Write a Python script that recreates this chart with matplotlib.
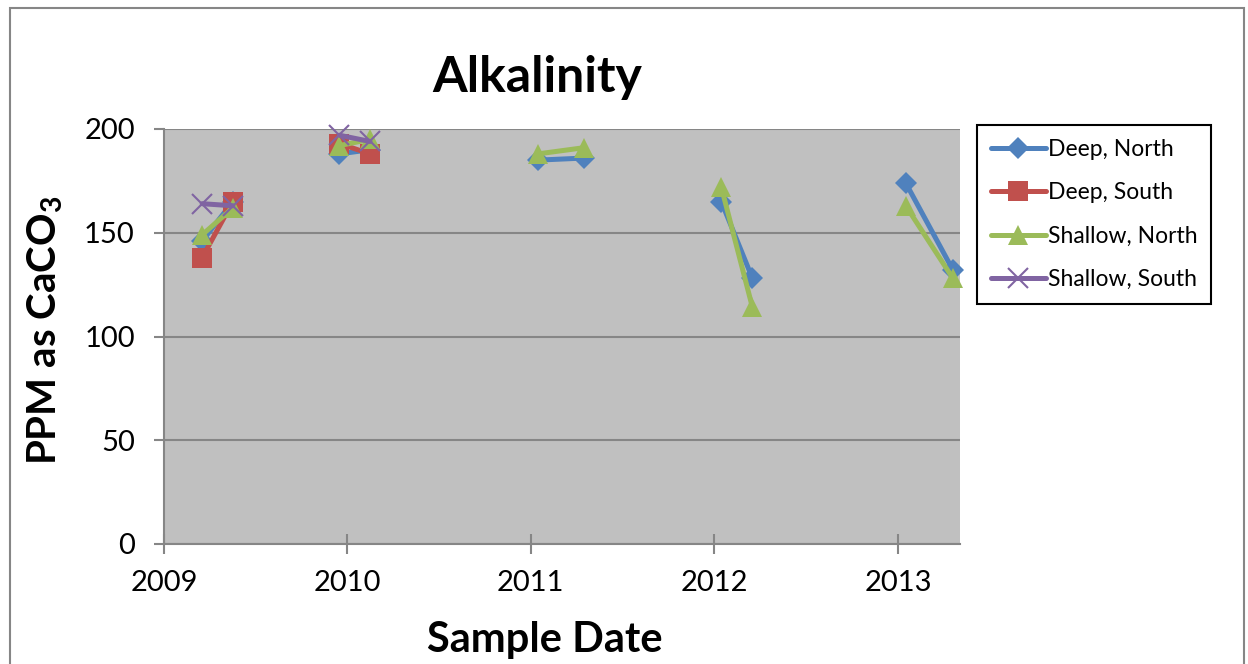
import numpy as np
import pandas as pd
import matplotlib
matplotlib.use("Agg")
import matplotlib.pyplot as plt
import matplotlib.dates as mdates
from matplotlib.patches import Rectangle

## Sample dates and alkalinity, ppm as CaCO3
sampleDates = ["2009-03-18", "2009-05-18", "2009-12-16", "2010-02-15",
               "2011-01-15", "2011-04-17", "2012-01-15", "2012-03-17",
               "2013-01-16", "2013-04-20"]
## sampling campaigns: lines only join samples of the same campaign
campaign = [1, 1, 2, 2, 3, 3, 4, 4, 5, 5]
deepNorth = [146, 165, 188, 190, 185, 186, 165, 128, 174, 132]
deepSouth = [138, 165, 193, 188, np.nan, np.nan, np.nan, np.nan, np.nan, np.nan]
shallowNorth = [149, 162, 192, 195, 188, 191, 172, 114, 163, 128]
shallowSouth = [164, 163, 197, 194, np.nan, np.nan, np.nan, np.nan, np.nan, np.nan]

seriesNames = ["Deep, North", "Deep, South", "Shallow, North", "Shallow, South"]
yTicks = [0, 50, 100, 150, 200]

plt.rcParams['font.family'] = ['Lato', 'DejaVu Sans']
plt.rcParams['mathtext.fontset'] = 'custom'
plt.rcParams['mathtext.rm'] = 'Lato'
plt.rcParams['mathtext.bf'] = 'Lato:bold'

df = pd.DataFrame({"date": pd.to_datetime(sampleDates), "campaign": campaign,
                   seriesNames[0]: deepNorth, seriesNames[1]: deepSouth,
                   seriesNames[2]: shallowNorth, seriesNames[3]: shallowSouth})

fig = plt.figure(figsize=(12.48, 6.64), dpi=100)
fig.patch.set_facecolor("white")
## outer chart border
fig.patches.append(Rectangle((10/1248, -0.05), 1234/1248, 1.05 - 8/664, transform=fig.transFigure,
                             fill=False, edgecolor="#868686", linewidth=1.5))

ax = fig.add_axes([164/1248, 1 - 544/664, 796/1248, 415/664])
ax.set_facecolor("#C0C0C0")

colors = ["#4F81BD", "#C0504D", "#9BBB59", "#8064A2"]
markers = ["D", "s", "^", "x"]
markerSizes = [11, 14, 15, 14]
for name, color, marker, ms in zip(seriesNames, colors, markers, markerSizes):
    for indexGroup, (key, group) in enumerate(df.groupby("campaign")):
        ax.plot(group["date"], group[name], color=color, linewidth=3.6, marker=marker, markersize=ms,
                markeredgewidth=1.5 if marker == "x" else 0, markeredgecolor=color,
                label=name if indexGroup == 0 else None, clip_on=False, solid_capstyle="round")

## Axes ranges and ticks
ax.set_ylim(0, 200)
ax.set_yticks(yTicks)
ax.set_xlim(pd.Timestamp("2009-01-01"), pd.Timestamp("2013-05-04"))
ax.xaxis.set_major_locator(mdates.YearLocator())
ax.xaxis.set_major_formatter(mdates.DateFormatter("%Y"))
ax.grid(axis="y", color="#868686", linewidth=1.5)
ax.set_axisbelow(True)
for Border in ["top", "right"]:
    ax.spines[Border].set_visible(False)
for Border in ["left", "bottom"]:
    ax.spines[Border].set_color("#868686")
    ax.spines[Border].set_linewidth(1.5)
ax.tick_params(axis="x", direction="inout", length=14, width=1.5, color="#868686",
               labelsize=21, pad=12)
ax.tick_params(axis="y", direction="out", length=7, width=1.5, color="#868686",
               labelsize=21, pad=14)

## Text
fig.text(537/1248, 1 - 78/664, "Alkalinity", ha="center", va="center", fontsize=36, fontweight="bold")
fig.text(545/1248, 1 - 640/664, "Sample Date", ha="center", va="center", fontsize=30, fontweight="bold")
fig.text(45/1248, 1 - 330/664, r"PPM as CaCO$\mathbf{_3}$", ha="center", va="center",
         fontsize=29, fontweight="bold", rotation=90)

leg = fig.legend(loc="upper left", bbox_to_anchor=(977/1248, 1 - 125/664), fontsize=16.5,
                 frameon=True, fancybox=False, framealpha=1, edgecolor="black",
                 handlelength=2.4, labelspacing=0.98, borderpad=0.6, handletextpad=0.1,
                 borderaxespad=0)
leg.get_frame().set_linewidth(1.5)

fig.savefig("out.png", dpi=100)
